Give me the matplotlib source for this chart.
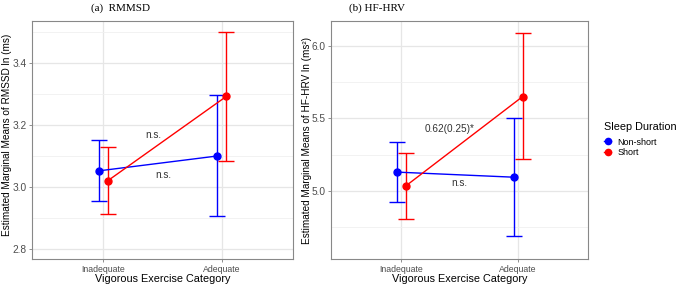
import matplotlib.pyplot as plt
from matplotlib.lines import Line2D
import numpy as np

plt.rcParams['font.family'] = ['Liberation Sans', 'DejaVu Sans']

categories = ['Inadequate', 'Adequate']
groups = ['Non-short', 'Short']
colors = ['#0000FF', '#FF0000']

# panel (a) RMSSD
rmssd_mean = {'Non-short': [3.052, 3.100], 'Short': [3.020, 3.292]}
rmssd_lo = {'Non-short': [2.955, 2.905], 'Short': [2.912, 3.085]}
rmssd_hi = {'Non-short': [3.150, 3.296], 'Short': [3.128, 3.500]}

# panel (b) HF-HRV
hf_mean = {'Non-short': [5.130, 5.095], 'Short': [5.035, 5.650]}
hf_lo = {'Non-short': [4.925, 4.690], 'Short': [4.805, 5.220]}
hf_hi = {'Non-short': [5.335, 5.500], 'Short': [5.262, 6.085]}

W, H = 676, 286
fig = plt.figure(figsize=(W / 100, H / 100), dpi=100)

def panel(rect, mean, lo, hi, ylim, ticks, minor, ylabel, ylab_xy, title, title_x, notes):
    ax = fig.add_axes(rect)
    x = np.arange(1, len(categories) + 1)
    dodge = [-0.038, 0.038]
    for g, c, d in zip(groups, colors, dodge):
        m = np.array(mean[g])
        err = [m - np.array(lo[g]), np.array(hi[g]) - m]
        ax.errorbar(x + d, m, yerr=err, color=c, lw=1.0, capsize=5.5,
                    capthick=1.0, marker='o', ms=5, zorder=3)
    ax.set_xlim(0.4, 2.6)
    ax.set_ylim(*ylim)
    ax.set_yticks(ticks)
    ax.set_yticks(minor, minor=True)
    ax.set_xticks(x)
    ax.set_xticklabels(categories)
    ax.grid(which='major', color='#e6e6e6', lw=0.9)
    ax.grid(which='minor', color='#f0f0f0', lw=0.6)
    ax.set_axisbelow(True)
    ax.tick_params(axis='both', which='major', colors='#7f7f7f',
                   labelcolor='#4d4d4d', length=2.5, width=0.6, pad=1.5)
    ax.tick_params(axis='x', labelsize=6.3)
    ax.tick_params(axis='y', labelsize=7.3)
    ax.tick_params(axis='both', which='minor', length=0)
    for s in ax.spines.values():
        s.set_color('#888888')
        s.set_linewidth(0.8)
    ax.set_xlabel('Vigorous Exercise Category', fontsize=7.8, labelpad=0)
    ax.set_ylabel(ylabel, fontsize=7.2)
    ax.yaxis.set_label_coords(*ylab_xy)
    fig.text(title_x, 1 - 8 / H, title, family='Liberation Serif', fontsize=8,
             ha='left', va='center')
    for tx, ty, s in notes:
        ax.text(tx, ty, s, fontsize=7.2, color='#333333', ha='center', va='center')
    return ax

panel([32 / W, 27 / H, 261 / W, 238 / H], rmssd_mean, rmssd_lo, rmssd_hi,
      (2.768, 3.535), [2.8, 3.0, 3.2, 3.4], [2.9, 3.1, 3.3, 3.5],
      'Estimated Marginal Means of RMSSD ln (ms)', (-0.078, 0.52), '(a)  RMMSD', 91 / W,
      [(1.42, 3.167, 'n.s.'), (1.505, 3.038, 'n.s.')])

panel([331.3 / W, 27 / H, 257 / W, 238 / H], hf_mean, hf_lo, hf_hi,
      (4.532, 6.17), [5.0, 5.5, 6.0], [4.75, 5.25, 5.75],
      'Estimated Marginal Means of HF-HRV ln (ms²)', (-0.074, 0.50), '(b) HF-HRV', 349 / W,
      [(1.41, 5.427, '0.62(0.25)*'), (1.5, 5.055, 'n.s.')])

handles = [Line2D([0], [0], color=c, marker='o', ms=4.5, lw=1.0) for c in colors]
leg = fig.legend(handles, groups, loc='upper left', bbox_to_anchor=(604 / W, 1 - 122 / H),
                 title='Sleep Duration', frameon=False, fontsize=6.5,
                 title_fontsize=7.8, handlelength=0.8, handletextpad=0.7,
                 labelspacing=0.2, borderaxespad=0, borderpad=0)
leg._legend_box.align = 'left'
leg._legend_box.sep = 4

fig.savefig('out.png', dpi=100)
